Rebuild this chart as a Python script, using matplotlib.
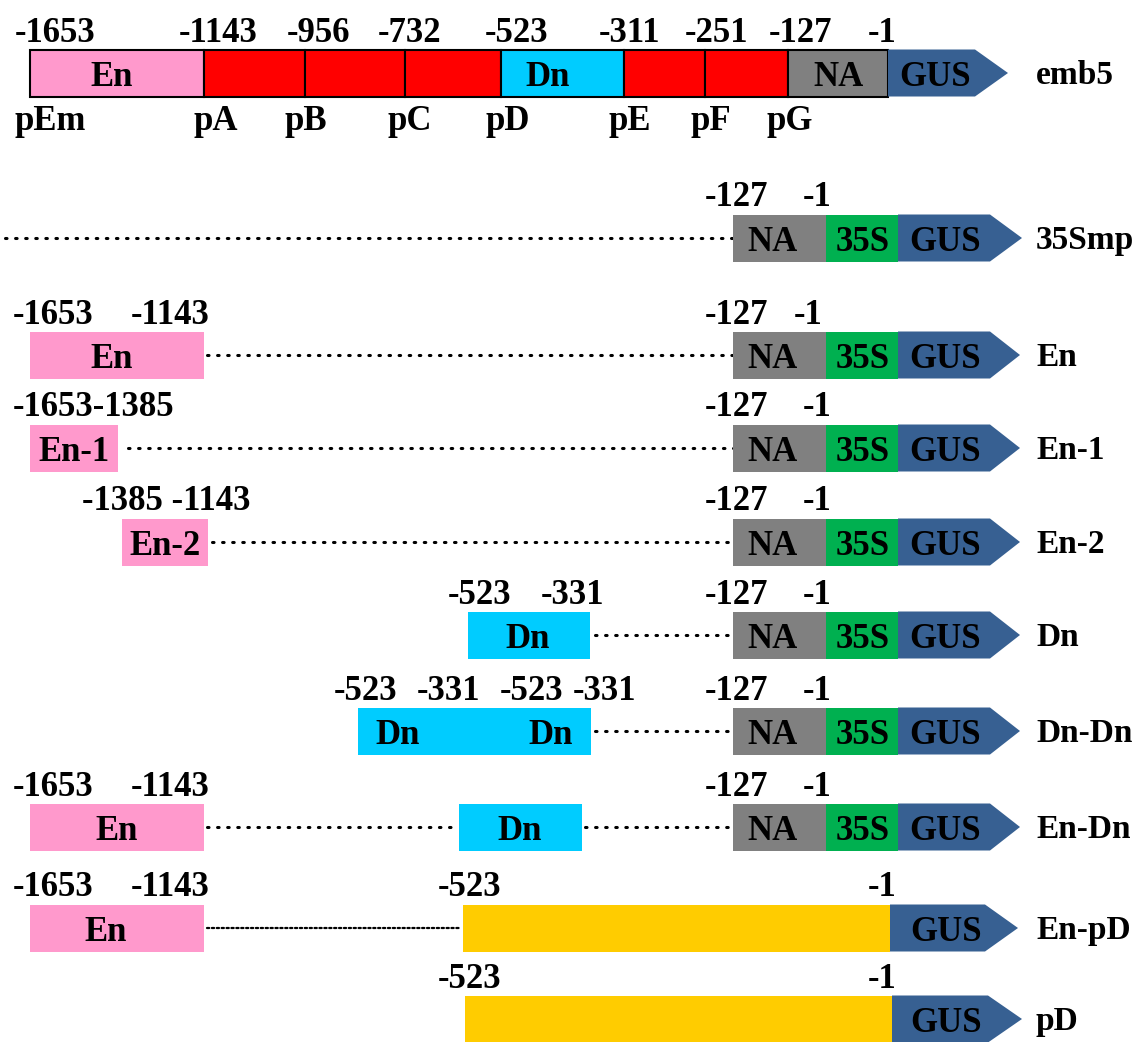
import matplotlib
matplotlib.use("Agg")
import matplotlib.pyplot as plt
from matplotlib.patches import Rectangle, Polygon

# ---------------- data (diagram units = pixels of the reference) -------------
row_names = ['emb5', '35Smp', 'En', 'En-1', 'En-2', 'Dn', 'Dn-Dn', 'En-Dn', 'En-pD', 'pD']
row_y = [73, 238, 355, 448, 542, 635, 731, 827, 928, 1019]
box_h = 47

PINK, RED, CYAN, GRAY, GREEN, BLUE, YELLOW = '#FF99CC', '#FF0000', '#00CCFF', '#808080', '#00B050', '#376092', '#FFCC00'

# segments per row: (start, end, colour, label, label_x)
seg_emb5 = [(30, 204, PINK, 'En', 112), (204, 305, RED, '', 0), (305, 405, RED, '', 0),
            (405, 501, RED, '', 0), (501, 624, CYAN, 'Dn', 548), (624, 705, RED, '', 0),
            (705, 788, RED, '', 0), (788, 888, GRAY, 'NA', 838)]
core_35s = [(733, 826, GRAY, 'NA', 772), (826, 898, GREEN, '35S', 863)]
seg_rows = [
    seg_emb5,
    core_35s,
    [(30, 204, PINK, 'En', 112)] + core_35s,
    [(30, 118, PINK, 'En-1', 74)] + core_35s,
    [(122, 208, PINK, 'En-2', 165)] + core_35s,
    [(468, 590, CYAN, 'Dn', 528)] + core_35s,
    [(358, 591, CYAN, '', 0)] + core_35s,
    [(30, 204, PINK, 'En', 117), (459, 582, CYAN, 'Dn', 520)] + core_35s,
    [(30, 204, PINK, 'En', 106), (463, 890, YELLOW, '', 0)],
    [(465, 892, YELLOW, '', 0)],
]
extra_box_labels = [[], [], [], [], [], [], [('Dn', 398), ('Dn', 551)], [], [], []]
outlined = [True, False, False, False, False, False, False, False, False, False]

# GUS arrows: (start, body_end, tip)
gus = [(888, 975, 1008), (898, 990, 1022), (898, 990, 1020), (898, 990, 1020),
       (898, 990, 1020), (898, 990, 1020), (898, 990, 1020), (898, 990, 1020),
       (890, 985, 1018), (892, 988, 1022)]
gus_label_x = [935, 945, 945, 945, 945, 945, 945, 945, 946, 946]

# dotted connectors: list of (start, end, fine?)
dots = [[], [(5, 733, False)], [(207, 733, False)], [(128, 733, False)], [(212, 733, False)],
        [(595, 733, False)], [(595, 733, False)], [(207, 458, False), (585, 733, False)],
        [(207, 460, True)], []]

# position numbers above each row: (text, x)
nums = [
    [('-1653', 55), ('-1143', 218), ('-956', 318), ('-732', 410), ('-523', 517),
     ('-311', 630), ('-251', 717), ('-127', 800), ('-1', 882)],
    [('-127', 737), ('-1', 817)],
    [('-1653', 53), ('-1143', 170), ('-127', 737), ('-1', 808)],
    [('-1653-1385', 94), ('-127', 737), ('-1', 817)],
    [('-1385 -1143', 166), ('-127', 737), ('-1', 817)],
    [('-523', 480), ('-331', 572), ('-127', 737), ('-1', 817)],
    [('-523', 366), ('-331', 448), ('-523', 532), ('-331', 605), ('-127', 737), ('-1', 817)],
    [('-1653', 53), ('-1143', 170), ('-127', 737), ('-1', 817)],
    [('-1653', 53), ('-1143', 170), ('-523', 470), ('-1', 882)],
    [('-523', 470), ('-1', 882)],
]

# fragment names under emb5
frag_names = ['pEm', 'pA', 'pB', 'pC', 'pD', 'pE', 'pF', 'pG']
frag_x = [50, 216, 306, 410, 508, 630, 711, 790]
frag_y = 130

# ---------------------------------------------------------------------------
W, H = 1139, 1042
fig = plt.figure(figsize=(W / 100, H / 100), dpi=100)
ax = fig.add_axes([0, 0, 1, 1])
ax.set_xlim(0, W)
ax.set_ylim(H, 0)
ax.axis('off')

FONT = dict(family='Liberation Serif', fontweight='bold', color='black')
FS = 25

for i, yc in enumerate(row_y):
    y0 = yc - box_h / 2
    for (s, e, c, lab, lx) in seg_rows[i]:
        ax.add_patch(Rectangle((s, y0), e - s, box_h, facecolor=c,
                               edgecolor='black' if outlined[i] else 'none',
                               linewidth=1.5 if outlined[i] else 0, zorder=2))
        if lab:
            ax.text(lx, yc + 13, lab, ha='center', va='baseline', fontsize=FS, zorder=4, **FONT)
    for (lab, lx) in extra_box_labels[i]:
        ax.text(lx, yc + 13, lab, ha='center', va='baseline', fontsize=FS, zorder=4, **FONT)
    gs, gb, gt = gus[i]
    ax.add_patch(Polygon([(gs, y0), (gb, y0), (gt, yc), (gb, y0 + box_h), (gs, y0 + box_h)],
                         closed=True, facecolor=BLUE, edgecolor='none', zorder=2))
    ax.text(gus_label_x[i], yc + 13, 'GUS', ha='center', va='baseline', fontsize=FS, zorder=4, **FONT)
    for (s, e, fine) in dots[i]:
        if fine:
            ax.plot([s, e], [yc, yc], color='black', linewidth=1.6,
                    linestyle=(0, (1, 1.2)), dash_capstyle='round', zorder=1)
        else:
            ax.plot([s, e], [yc, yc], color='black', linewidth=2.2,
                    linestyle=(0, (0.5, 2.8)), dash_capstyle='round', zorder=1)
    for (t, x) in nums[i]:
        ax.text(x, y0 - 8, t, ha='center', va='baseline', fontsize=FS, **FONT)
    ax.text(1036, yc + 11, row_names[i], ha='left', va='baseline', fontsize=FS - 1, **FONT)

for name, x in zip(frag_names, frag_x):
    ax.text(x, frag_y, name, ha='center', va='baseline', fontsize=FS, **FONT)

fig.savefig('out.png', dpi=100)
